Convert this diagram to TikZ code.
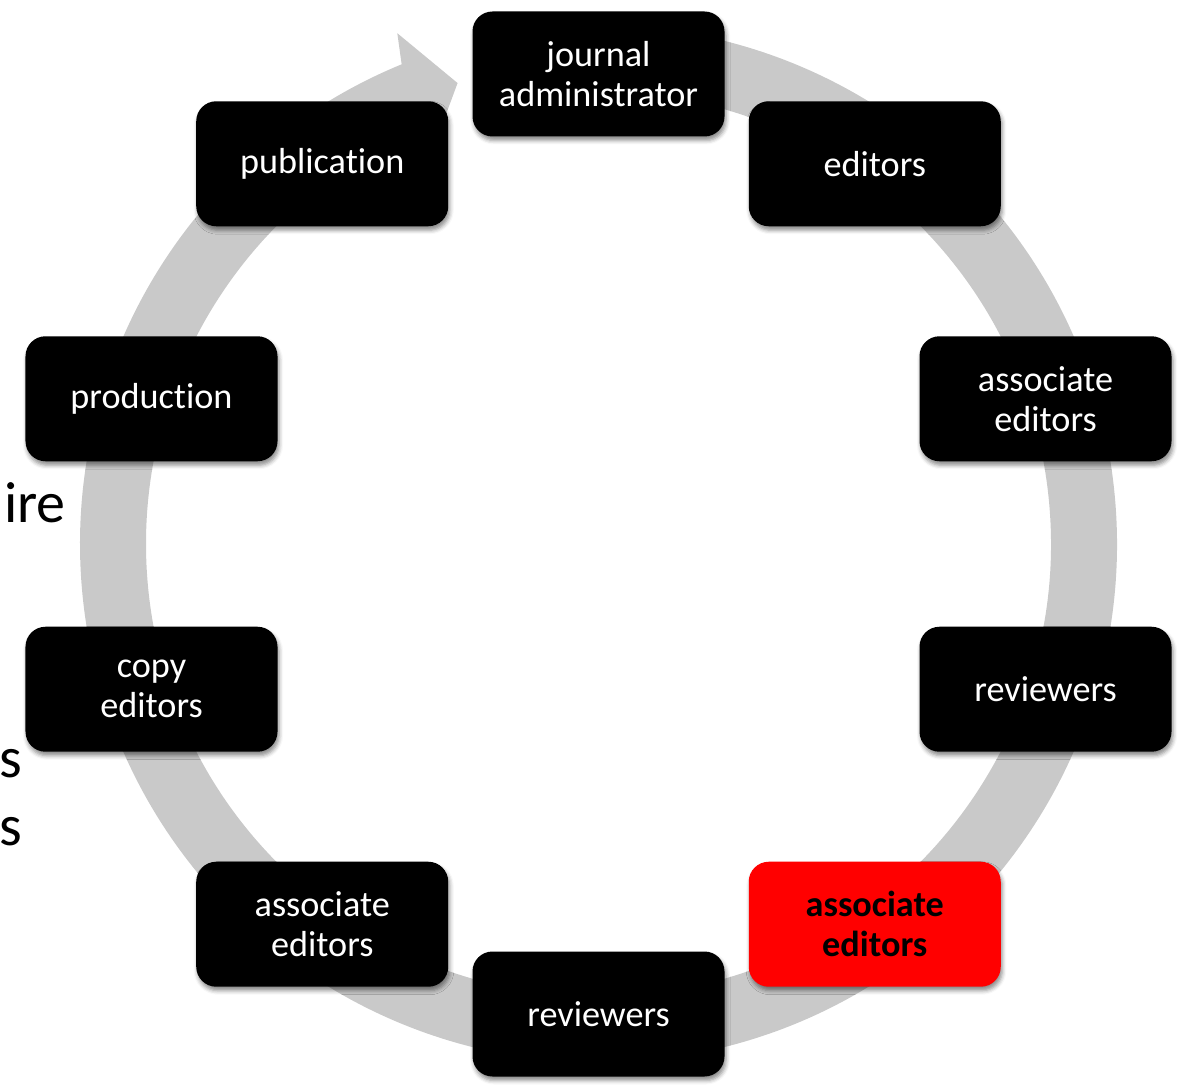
\documentclass[tikz,border=0pt]{standalone}
\usepackage{fontspec}
\setmainfont{Carlito}[RawFeature={-liga}]
\usetikzlibrary{shadows.blur}
\definecolor{ringgray}{HTML}{C9C9C9}
\definecolor{boxred}{HTML}{FF0000}
\tikzset{
  rolebox/.style={fill=black, text=white, rounded corners=20pt, minimum width=252pt,
    minimum height=125pt, align=center, inner sep=0pt,
    font=\fontsize{36.2}{40}\selectfont,
    blur shadow={shadow xshift=1.5pt, shadow yshift=-4pt, shadow blur radius=4pt, shadow opacity=45}},
  hotbox/.style={rolebox, fill=boxred, text=black, font=\fontsize{36.2}{40}\selectfont\bfseries},
  stray/.style={anchor=base east, inner sep=0pt, text=black, font=\fontsize{58}{70}\selectfont},
  ring/.style={draw=ringgray, line width=66pt},
}
\begin{document}
\begin{tikzpicture}[x=1pt, y=1pt]
\useasboundingbox (0,0) rectangle (1183,1088);
% text fragments of the slide behind the diagram
\node[stray] (t1) at (66,565) {ire};
\node[stray] (t2) at (22,311) {s};
\node[stray] (t3) at (22,243) {s};
\begin{scope}[shift={(598.5,544)}]
  % circular arrow
  \draw[ring] (95:485.5) arc[start angle=95, end angle=-248, radius=485.5];
  \fill[ringgray] (112.3:519) -- (111.5:549) -- (107:482) -- (113.5:422) -- (112.3:452) -- cycle;
  % boxes
  \node[rolebox] (ja)  at (90:470)   {journal\\administrator};
  \node[rolebox] (ed)  at (54:470)   {editors};
  \node[rolebox] (ae1) at (18:470)   {associate\\editors};
  \node[rolebox] (rv1) at (-18:470)  {reviewers};
  \node[hotbox]  (ae2) at (-54:470)  {associate\\editors};
  \node[rolebox] (rv2) at (-90:470)  {reviewers};
  \node[rolebox] (ae3) at (-126:470) {associate\\editors};
  \node[rolebox] (ce)  at (-162:470) {copy\\editors};
  \node[rolebox] (pr)  at (162:470)  {production};
  \node[rolebox] (pu)  at (126:470)  {publication};
\end{scope}
\end{tikzpicture}
\end{document}
